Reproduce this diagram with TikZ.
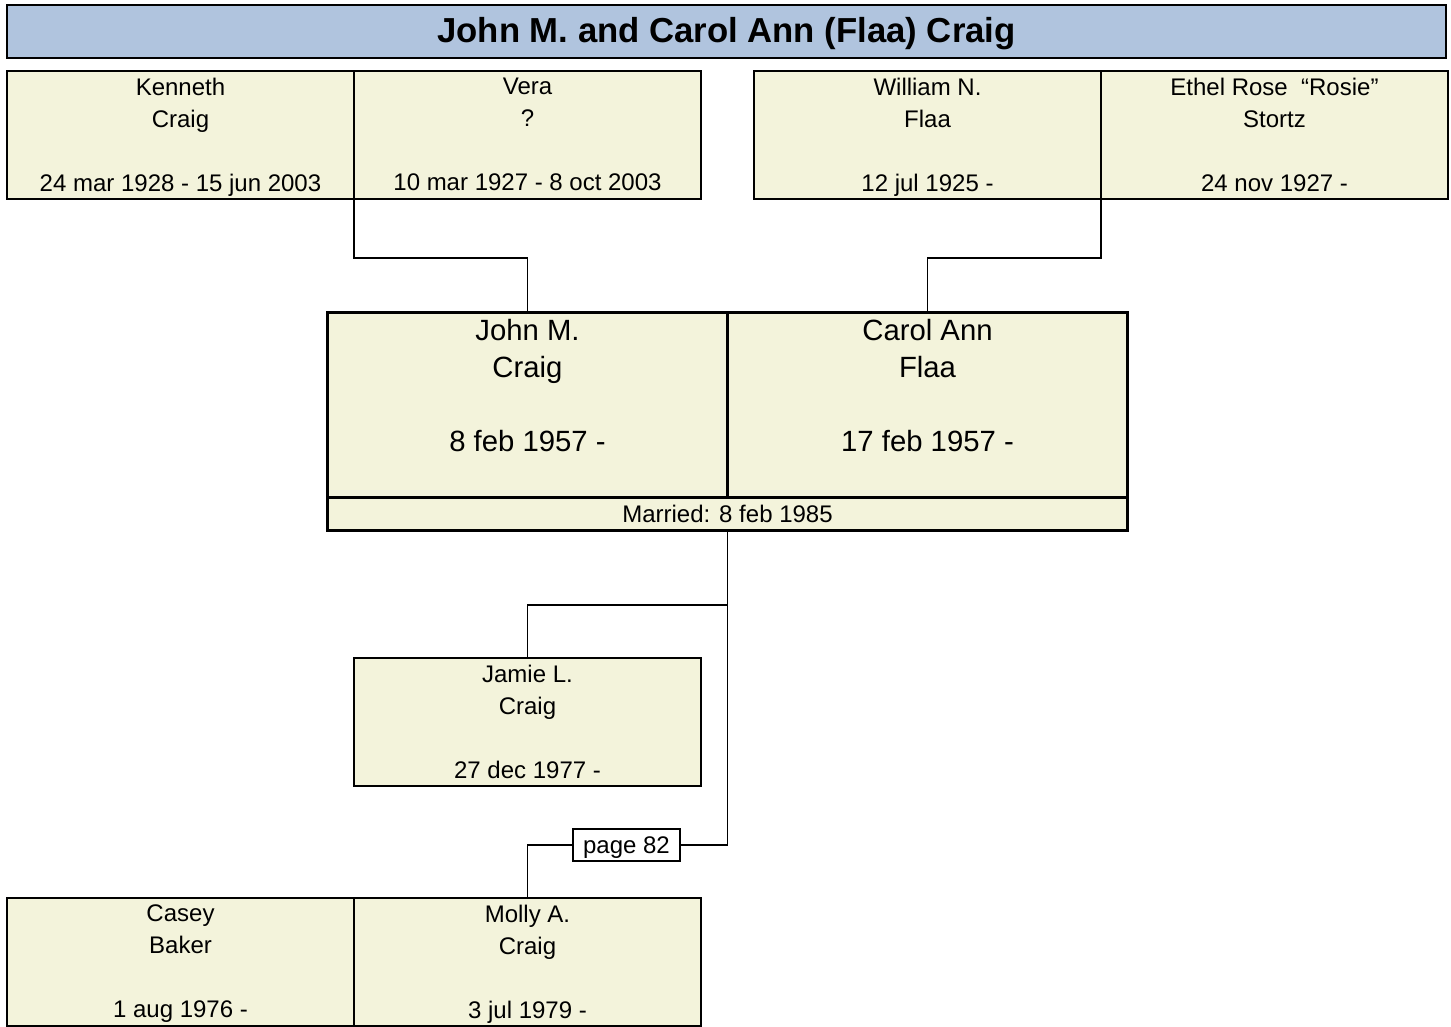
\documentclass[tikz,border=0pt]{standalone}
\usepackage{fontspec}
\setmainfont{Liberation Sans}
\usepackage{xcolor}
\usepackage{tikz}
\usetikzlibrary{positioning}
\definecolor{boxfill}{HTML}{F3F3DB}
\definecolor{titlefill}{HTML}{B0C4DE}

\begin{document}
\begin{tikzpicture}[
    x=1pt, y=-1pt,
    title/.style={rectangle, draw, fill=titlefill, line width=2.5pt, outer sep=0pt,
                  minimum width=1439pt, minimum height=53pt, inner sep=0pt,
                  text height=27pt, text depth=5pt,
                  font=\bfseries\fontsize{34.7}{40}\selectfont},
    person/.style={rectangle, draw, fill=boxfill, line width=1.6pt, outer sep=0pt,
                   minimum width=347pt, minimum height=128pt, inner sep=0pt},
    spouse/.style={rectangle, draw, fill=boxfill, line width=3pt, outer sep=0pt,
                   minimum width=400pt, minimum height=185pt, inner sep=0pt},
    married/.style={rectangle, draw, fill=boxfill, line width=3pt, outer sep=0pt,
                    minimum width=800pt, minimum height=33pt, inner sep=0pt,
                    font=\fontsize{24}{28}\selectfont},
    info/.style={anchor=north, align=center, inner sep=0pt, yshift=-7pt,
                 font=\fontsize{24}{32}\selectfont},
    biginfo/.style={anchor=north, align=center, inner sep=0pt, yshift=-7pt,
                    font=\fontsize{29.3}{37}\selectfont},
    pagebox/.style={rectangle, draw, fill=white, line width=1.5pt, outer sep=0pt,
                    minimum width=107pt, minimum height=32pt, inner sep=0pt,
                    text height=19pt, text depth=3pt,
                    font=\fontsize{24}{28}\selectfont},
    link/.style={line width=1.5pt}
]
\useasboundingbox (0,0) rectangle (1451,1026);

\node[title] (title) at (726.5,31.5) {John M. and Carol Ann (Flaa) Craig};

% parents
\node[person] (kenneth) at (180.5,135) {};
\node[person, right=0pt of kenneth] (vera) {};
\node[person] (william) at (927.5,135) {};
\node[person, right=0pt of william] (ethel) {};
\node[info] (kenneth-t) at (kenneth.north) {Kenneth\\Craig\\[32pt]24 mar 1928 - 15 jun 2003};
\node[info] (vera-t) at (vera.north) {Vera\\?\\[32pt]10 mar 1927 - 8 oct 2003};
\node[info] (william-t) at (william.north) {William N.\\Flaa\\[32pt]12 jul 1925 -};
\node[info] (ethel-t) at (ethel.north) {Ethel Rose~ “Rosie”\\Stortz\\[32pt]24 nov 1927 -};

% couple
\node[spouse] (john) at (527.5,404.5) {};
\node[spouse, right=0pt of john] (carol) {};
\node[married, anchor=north west] (married) at (john.south west) {Married: 8 feb 1985};
\node[biginfo] (john-t) at (john.north) {John M.\\Craig\\[37pt]8 feb 1957 -};
\node[biginfo] (carol-t) at (carol.north) {Carol Ann\\Flaa\\[37pt]17 feb 1957 -};

% children
\node[person] (jamie) at (527.5,722) {};
\node[info] (jamie-t) at (jamie.north) {Jamie L.\\Craig\\[32pt]27 dec 1977 -};
\node[person] (casey) at (180.5,962) {};
\node[person, right=0pt of casey] (molly) {};
\node[info] (casey-t) at (casey.north) {Casey\\Baker\\[32pt]1 aug 1976 -};
\node[info] (molly-t) at (molly.north) {Molly A.\\Craig\\[32pt]3 jul 1979 -};
\node[pagebox] (page) at (626.5,845) {page 82};

\draw[link] (kenneth.south east) -- ++(0,59) -| (john.north);
\draw[link] (william.south east) -- ++(0,59) -| (carol.north);
\draw[link] (married.south) |- (page.east);
\draw[link] (married.south) -- ++(0,75) -| (jamie.north);
\draw[link] (page.west) -| (molly.north);
\end{tikzpicture}
\end{document}
